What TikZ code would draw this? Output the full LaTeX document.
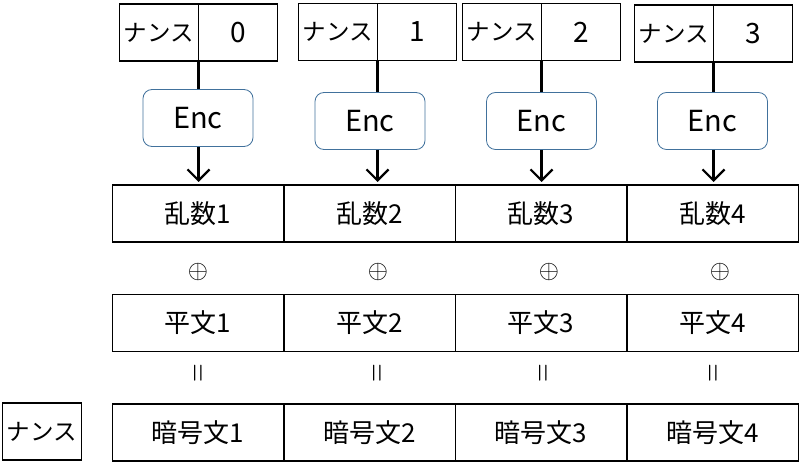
\documentclass[tikz,border=0pt]{standalone}
\usepackage{fontspec}
\setmainfont{Noto Sans CJK JP}
\usetikzlibrary{arrows.meta,positioning}
\definecolor{encblue}{RGB}{65,113,156}

\begin{document}
\begin{tikzpicture}[
      x=1pt, y=-1pt,
      node distance=0pt,
      cell/.style={draw, line width=1.5pt, inner sep=0pt, outer sep=0pt, minimum width=171.5pt, minimum height=57pt, font=\fontsize{26}{26}\selectfont},
      half/.style={draw, line width=1.2pt, inner sep=0pt, outer sep=0pt, minimum width=79pt, minimum height=57pt, font=\fontsize{23.5}{24}\selectfont},
      num/.style={half, font=\fontsize{28}{28}\selectfont},
      enc/.style={draw=encblue, line width=0.8pt, rounded corners=9pt, minimum width=110pt, minimum height=57pt, font=\fontsize{29}{29}\selectfont},
      xor/.style={inner sep=0pt},
      eq/.style={inner sep=0pt, rotate=90},
      >={Straight Barb[length=11pt, width=22pt]}
    ]
    \useasboundingbox (0,0) rectangle (800,465);

    % nonce + counter
    \node[half] (n0) at (159,32.5) {ナンス};
    \node[num, right=of n0] (k0) {0};
    \node[half] (n1) at (338,32) {ナンス};
    \node[num, right=of n1] (k1) {1};
    \node[half] (n2) at (502,32) {ナンス};
    \node[num, right=of n2] (k2) {2};
    \node[half] (n3) at (674,33.5) {ナンス};
    \node[num, right=of n3] (k3) {3};

    \node[enc] (e0) at (198,118) {Enc};
    \node[enc] (e1) at (370,121) {Enc};
    \node[enc] (e2) at (541.5,121) {Enc};
    \node[enc] (e3) at (712.5,121) {Enc};

    % keystream
    \node[cell] (r1) at (198,213.5) {乱数1};
    \node[cell, right=of r1] (r2) {乱数2};
    \node[cell, right=of r2] (r3) {乱数3};
    \node[cell, right=of r3] (r4) {乱数4};

    \node[xor] (x1) at (198,272) {\scalebox{2.6}{$\oplus$}};
    \node[xor] (x2) at (378,272) {\scalebox{2.6}{$\oplus$}};
    \node[xor] (x3) at (549,272) {\scalebox{2.6}{$\oplus$}};
    \node[xor] (x4) at (720,272) {\scalebox{2.6}{$\oplus$}};

    % plaintext
    \node[cell] (p1) at (198,323) {平文1};
    \node[cell, right=of p1] (p2) {平文2};
    \node[cell, right=of p2] (p3) {平文3};
    \node[cell, right=of p3] (p4) {平文4};

    \node[eq] (q1) at (200,373) {\scalebox{2.4}[3.2]{$=$}};
    \node[eq] (q2) at (379,373) {\scalebox{2.4}[3.2]{$=$}};
    \node[eq] (q3) at (545,373) {\scalebox{2.4}[3.2]{$=$}};
    \node[eq] (q4) at (715,373) {\scalebox{2.4}[3.2]{$=$}};

    % ciphertext
    \node[half] (nc) at (42,431.5) {ナンス};
    \node[cell] (c1) at (198,432.5) {暗号文1};
    \node[cell, right=of c1] (c2) {暗号文2};
    \node[cell, right=of c2] (c3) {暗号文3};
    \node[cell, right=of c3] (c4) {暗号文4};

    \draw[line width=2.2pt] (k0.south west) -- (k0.south west |- e0.north);
    \draw[line width=2.2pt] (k1.south west) -- (k1.south west |- e1.north);
    \draw[line width=2.2pt] (k2.south west) -- (k2.south west |- e2.north);
    \draw[line width=2.2pt] (k3.south west) -- (k3.south west |- e3.north);

    \draw[->, line width=2.2pt, shorten >=3pt] (k0.south west |- e0.south) -- (k0.south west |- r1.north);
    \draw[->, line width=2.2pt, shorten >=3pt] (k1.south west |- e1.south) -- (k1.south west |- r2.north);
    \draw[->, line width=2.2pt, shorten >=3pt] (k2.south west |- e2.south) -- (k2.south west |- r3.north);
    \draw[->, line width=2.2pt, shorten >=3pt] (k3.south west |- e3.south) -- (k3.south west |- r4.north);
  \end{tikzpicture}
\end{document}
